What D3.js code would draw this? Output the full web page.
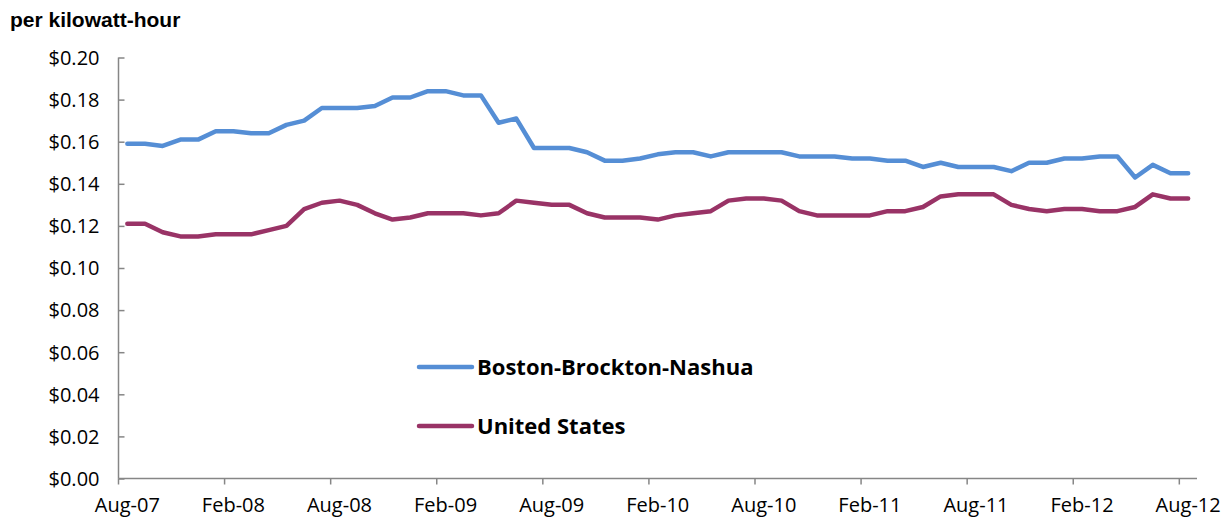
<!DOCTYPE html>
<html><head><meta charset="utf-8">
<script src="https://cdn.jsdelivr.net/npm/d3@7"></script>
<style>
body{margin:0;background:#fff;}
svg{display:block;}
</style></head>
<body>
<svg id="chart" width="1225" height="519"></svg>
<script>
const startMonth = new Date(2007, 7, 1);
const endMonth = new Date(2012, 7, 1);
const tickLabels = ["Aug-07","Feb-08","Aug-08","Feb-09","Aug-09","Feb-10","Aug-10","Feb-11","Aug-11","Feb-12","Aug-12"];
const yTicks = [0,0.02,0.04,0.06,0.08,0.10,0.12,0.14,0.16,0.18,0.20];
const seriesNames = ["Boston-Brockton-Nashua","United States"];
const boston = [0.159,0.159,0.158,0.161,0.161,0.165,0.165,0.164,0.164,0.168,0.170,0.176,0.176,0.176,0.177,0.181,0.181,0.184,0.184,0.182,0.182,0.169,0.171,0.157,0.157,0.157,0.155,0.151,0.151,0.152,0.154,0.155,0.155,0.153,0.155,0.155,0.155,0.155,0.153,0.153,0.153,0.152,0.152,0.151,0.151,0.148,0.150,0.148,0.148,0.148,0.146,0.150,0.150,0.152,0.152,0.153,0.153,0.143,0.149,0.145,0.145];
const us = [0.121,0.121,0.117,0.115,0.115,0.116,0.116,0.116,0.118,0.120,0.128,0.131,0.132,0.130,0.126,0.123,0.124,0.126,0.126,0.126,0.125,0.126,0.132,0.131,0.130,0.130,0.126,0.124,0.124,0.124,0.123,0.125,0.126,0.127,0.132,0.133,0.133,0.132,0.127,0.125,0.125,0.125,0.125,0.127,0.127,0.129,0.134,0.135,0.135,0.135,0.130,0.128,0.127,0.128,0.128,0.127,0.127,0.129,0.135,0.133,0.133];
const colors = ["#558ED5","#993366"];

(function(){
const fmtMonth = d3.timeFormat("%b-%y");
const months = d3.timeMonth.range(startMonth, d3.timeMonth.offset(endMonth,1)).map(fmtMonth);

const svg = d3.select("#chart");
const pLeft = 118.5, pRight = 1197, pTop = 57.5, pBottom = 478.5;
const axisColor = "#868686";
const labelFont = "'Open Sans', sans-serif";

const x = d3.scaleBand().domain(months).range([pLeft, pRight]).paddingInner(0).paddingOuter(0);
const y = d3.scaleLinear().domain([0, 0.20]).range([pBottom, pTop]);

// title
svg.append("text").attr("x", 10).attr("y", 27)
  .attr("font-family", "'Liberation Sans', Arial, sans-serif")
  .attr("font-weight", "bold").attr("font-size", 21).attr("fill", "#000")
  .text("per kilowatt-hour");

// y axis
const yAxis = d3.axisRight(y).tickValues(yTicks).tickSize(6).tickFormat(d => "$" + d.toFixed(2));
const yg = svg.append("g").attr("transform", `translate(${pLeft},0)`).call(yAxis);
yg.select(".domain").attr("stroke", axisColor).attr("stroke-width", 1.5).attr("d", `M0,${pTop}V${pBottom}`);
yg.selectAll(".tick line").attr("stroke", axisColor).attr("stroke-width", 1.5);
yg.selectAll(".tick text").attr("x", -19).attr("text-anchor", "end").attr("dy", "0.34em")
  .attr("font-family", labelFont).attr("font-size", 20).attr("fill", "#000");

// x axis: ticks at band boundaries every 6 months, labels at band centres
const xg = svg.append("g");
xg.append("line").attr("x1", pLeft).attr("x2", pRight).attr("y1", pBottom).attr("y2", pBottom)
  .attr("stroke", axisColor).attr("stroke-width", 1.5);
const labelMonths = months.filter(m => tickLabels.includes(m));
xg.selectAll("line.tk").data(labelMonths).enter().append("line").attr("class","tk")
  .attr("x1", d => x(d)).attr("x2", d => x(d)).attr("y1", pBottom).attr("y2", pBottom + 6)
  .attr("stroke", axisColor).attr("stroke-width", 1.5);
xg.selectAll("text").data(labelMonths).enter().append("text")
  .attr("x", d => x(d) + x.bandwidth()/2).attr("y", 512)
  .attr("text-anchor", "middle").attr("font-family", labelFont).attr("font-size", 20).attr("fill", "#000")
  .text(d => d);

// lines
const line = d3.line().x((d,i) => x(months[i]) + x.bandwidth()/2).y(d => y(d));
[boston, us].forEach((s, k) => {
  svg.append("path").datum(s).attr("d", line).attr("fill", "none")
    .attr("stroke", colors[k]).attr("stroke-width", 4.5)
    .attr("stroke-linejoin", "round").attr("stroke-linecap", "round");
});

// legend
const legY = [367, 426];
seriesNames.forEach((n, k) => {
  svg.append("line").attr("x1", 419).attr("x2", 472).attr("y1", legY[k]).attr("y2", legY[k])
    .attr("stroke", colors[k]).attr("stroke-width", 4.5).attr("stroke-linecap", "round");
  svg.append("text").attr("x", 477).attr("y", legY[k] + 8)
    .attr("font-family", labelFont).attr("font-weight", "bold").attr("font-size", 22).attr("fill", "#000")
    .text(n);
});
})();
</script>
</body></html>
